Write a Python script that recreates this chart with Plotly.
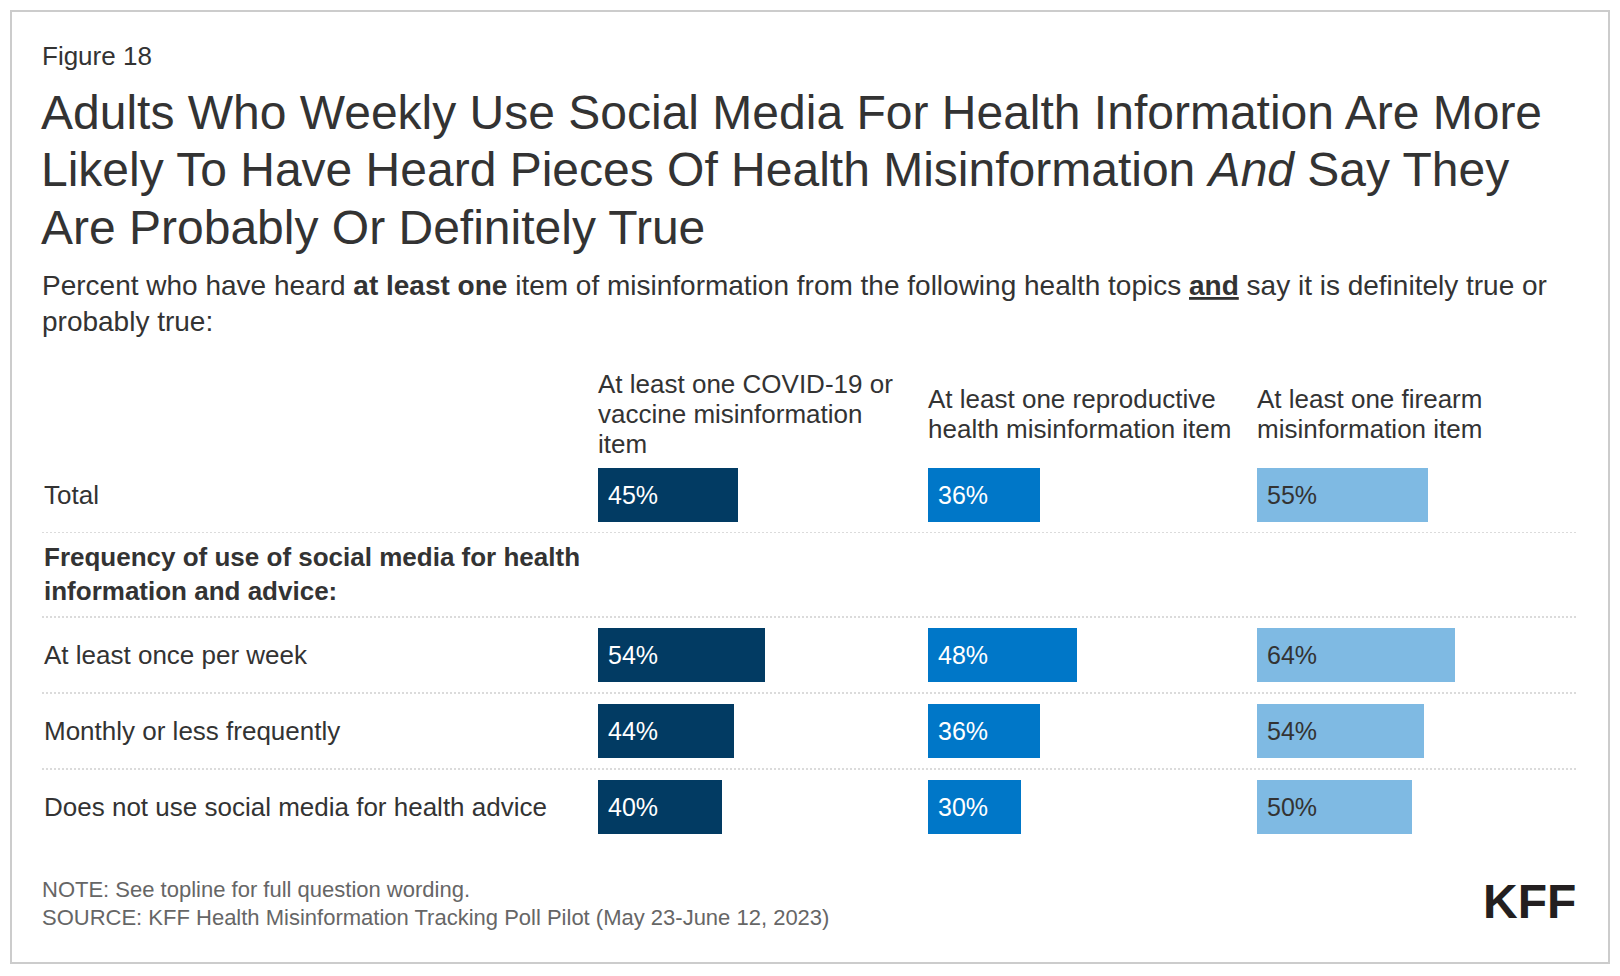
import plotly.graph_objects as go

W, H = 1620, 976
FONT = "Liberation Sans, Arial, Helvetica, sans-serif"
TXT = "#333333"

# ---------------- data ----------------
categories = ["Total", "At least once per week", "Monthly or less frequently",
              "Does not use social media for health advice"]
covid_vals = [45, 54, 44, 40]
repro_vals = [36, 48, 36, 30]
firearm_vals = [55, 64, 54, 50]
series_headers = [
    ["At least one COVID-19 or", "vaccine misinformation", "item"],
    ["At least one reproductive", "health misinformation item"],
    ["At least one firearm", "misinformation item"],
]
group_header = "Frequency of use of social media for health<br>information and advice:"
HEADER_KEY = " "

figure_label = "Figure 18"
title_lines = [
    "Adults Who Weekly Use Social Media For Health Information Are More",
    "Likely To Have Heard Pieces Of Health Misinformation <i>And</i> Say They",
    "Are Probably Or Definitely True",
]
subtitle_lines = [
    "Percent who have heard <b>at least one</b> item of misinformation from the following health topics <u><b>and</b></u> say it is definitely true or",
    "probably true:",
]
note = "NOTE: See topline for full question wording."
source = "SOURCE: KFF Health Misinformation Tracking Poll Pilot (May 23-June 12, 2023)"

# ---------------- styling ----------------
colors = ["#023b63", "#0077c8", "#7fbae3"]
label_colors = ["#ffffff", "#ffffff", "#333333"]
col_starts = [598, 928, 1257]   # px
col_width = 310                  # px for 100%

series = [covid_vals, repro_vals, firearm_vals]
top_cats = categories[:1]
group_cats = [HEADER_KEY] + categories[1:]

def px_y(p):
    return 1 - p / H

def px_x(p):
    return p / W

fig = go.Figure()
annotations = []
axes = ["x", "x2", "x3"]
for i, vals in enumerate(series):
    for cats, v_sub, ya in [(categories[:1], vals[:1], "y"), (categories[1:], vals[1:], "y2")]:
        fig.add_trace(go.Bar(
            x=v_sub, y=cats, orientation="h",
            xaxis=axes[i], yaxis=ya,
            marker=dict(color=colors[i], line=dict(width=0)),
            width=0.71, hoverinfo="skip", showlegend=False,
        ))
        for c, v in zip(cats, v_sub):
            annotations.append(dict(
                x=0, y=c, xref=axes[i], yref=ya, text=f"{v}%",
                xanchor="left", yanchor="middle", xshift=8, showarrow=False,
                font=dict(family=FONT, size=25, color=label_colors[i]),
            ))

# column headers
for i, lines in enumerate(series_headers):
    n = len(lines)
    for j, line in enumerate(lines):
        yc = 414 + (j - (n - 1) / 2) * 30
        annotations.append(dict(
            x=px_x(col_starts[i] - 2), y=px_y(yc), xref="paper", yref="paper",
            text=line, xanchor="left", yanchor="middle", showarrow=False,
            font=dict(family=FONT, size=26, color=TXT),
        ))

# row labels
for k, c in enumerate(categories):
    annotations.append(dict(
        x=px_x(42), y=c, xref="paper", yref="y" if k == 0 else "y2", text=c,
        xanchor="left", yanchor="middle", showarrow=False,
        font=dict(family=FONT, size=26, color=TXT),
    ))
annotations.append(dict(
    x=px_x(42), y=HEADER_KEY, xref="paper", yref="y2", text=f"<b>{group_header}</b>",
    xanchor="left", yanchor="middle", align="left", showarrow=False, yshift=5,
    font=dict(family=FONT, size=26, color=TXT),
))

# figure label, title, subtitle
annotations.append(dict(
    x=px_x(40), y=px_y(56), xref="paper", yref="paper", text=figure_label,
    xanchor="left", yanchor="middle", showarrow=False,
    font=dict(family=FONT, size=26, color=TXT),
))
for j, line in enumerate(title_lines):
    annotations.append(dict(
        x=px_x(39), y=px_y(112 + j * 57.5), xref="paper", yref="paper", text=line,
        xanchor="left", yanchor="middle", showarrow=False,
        font=dict(family=FONT, size=48, color=TXT),
    ))
for j, line in enumerate(subtitle_lines):
    annotations.append(dict(
        x=px_x(40), y=px_y(285 + j * 36), xref="paper", yref="paper", text=line,
        xanchor="left", yanchor="middle", showarrow=False,
        font=dict(family=FONT, size=28, color=TXT),
    ))

# notes
for j, line in enumerate([note, source]):
    annotations.append(dict(
        x=px_x(40), y=px_y(889 + j * 28.5), xref="paper", yref="paper", text=line,
        xanchor="left", yanchor="middle", showarrow=False,
        font=dict(family=FONT, size=22, color="#666666"),
    ))

# logo
annotations.append(dict(
    x=px_x(1578), y=px_y(901), xref="paper", yref="paper", text="<b>KFF</b>",
    xanchor="right", yanchor="middle", showarrow=False,
    font=dict(family=FONT, size=48, color="#231f20"),
))

# separators
sep_style = dict(color="#d0d0d0", width=1.5, dash="2px,2px")
shapes = [dict(type="line", xref="paper", yref="y", x0=px_x(42), x1=px_x(1576),
               y0=0.5, y1=0.5, line=sep_style)]
for k in range(len(group_cats) - 1):
    shapes.append(dict(
        type="line", xref="paper", yref="y2",
        x0=px_x(42), x1=px_x(1576), y0=k + 0.5, y1=k + 0.5, line=sep_style,
    ))
# border
shapes.append(dict(
    type="rect", xref="paper", yref="paper",
    x0=px_x(11), x1=px_x(1609), y0=px_y(963), y1=px_y(11),
    line=dict(color="#cccccc", width=2),
))

layout = dict(
    width=W, height=H,
    margin=dict(l=0, r=0, t=0, b=0),
    paper_bgcolor="white", plot_bgcolor="white",
    bargap=0, showlegend=False,
    yaxis=dict(type="category", categoryorder="array", categoryarray=top_cats,
               range=[len(top_cats) - 0.5, -0.5], autorange=False,
               domain=[px_y(533), px_y(457)],
               visible=False, fixedrange=True),
    yaxis2=dict(type="category", categoryorder="array", categoryarray=group_cats,
                range=[len(group_cats) - 0.5, -0.5], autorange=False,
                domain=[px_y(845), px_y(541)],
                visible=False, fixedrange=True),
    annotations=annotations, shapes=shapes,
)
for i, ax in enumerate(["xaxis", "xaxis2", "xaxis3"]):
    layout[ax] = dict(range=[0, 100], autorange=False,
                      domain=[px_x(col_starts[i]), px_x(col_starts[i] + col_width)],
                      anchor="y", visible=False, fixedrange=True)

fig.update_layout(**layout)
fig.write_html("out.html", config={"displayModeBar": False},
               post_script="document.body.style.margin='0';document.body.style.overflow='hidden';")
